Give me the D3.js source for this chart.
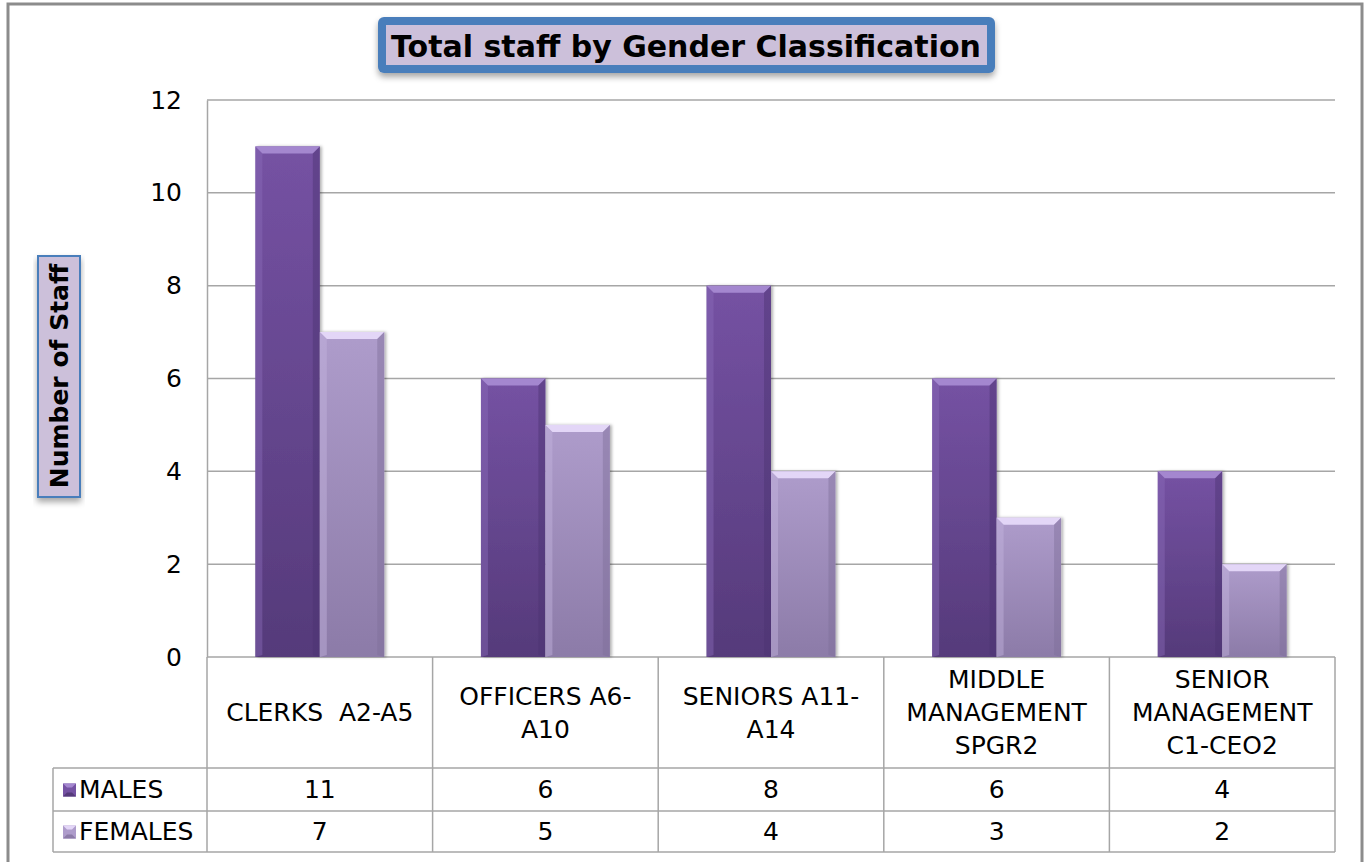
<!DOCTYPE html>
<html>
<head>
<meta charset="utf-8">
<script src="https://cdnjs.cloudflare.com/ajax/libs/d3/7.8.5/d3.min.js"></script>
<style>
body { margin: 0; background: #fff; }
svg { display: block; }
text { font-family: "DejaVu Sans", Verdana, sans-serif; fill: #000; white-space: pre; }
</style>
</head>
<body>
<div id="chart"></div>
<script>
// data
var categories = ["CLERKS  A2-A5", "OFFICERS A6-A10", "SENIORS A11-A14", "MIDDLE MANAGEMENT SPGR2", "SENIOR MANAGEMENT C1-CEO2"];
var categoryLines = [["CLERKS  A2-A5"], ["OFFICERS A6-", "A10"], ["SENIORS A11-", "A14"], ["MIDDLE", "MANAGEMENT", "SPGR2"], ["SENIOR", "MANAGEMENT", "C1-CEO2"]];
var seriesNames = ["MALES", "FEMALES"];
var males = [11, 6, 8, 6, 4];
var females = [7, 5, 4, 3, 2];
var yTicks = [0, 2, 4, 6, 8, 10, 12];

var width = 1369,
height = 862,
plotLeft = 207,
plotRight = 1335,
plotTop = 100,
plotBottom = 657,
headRow = 768,
row1 = 811,
row2 = 852,
legendLeft = 53;

var colors = {
	MALES: { top: "#a487cf", main: "#7552a3", bottom: "#553a7a", side: "#8a6ab8", dark: "#4b3370" },
	FEMALES: { top: "#e3d6f7", main: "#ae9ccb", bottom: "#8c7ba8", side: "#c3b3dd", dark: "#7f6f9a" }
};

var svg = d3.select("#chart").append("svg")
.attr("width", width)
.attr("height", height);

var defs = svg.append("defs");

var shadow = defs.append("filter").attr("id", "shadow")
.attr("x", "-10%").attr("y", "-10%").attr("width", "120%").attr("height", "140%");
shadow.append("feDropShadow")
.attr("dx", 0).attr("dy", 4).attr("stdDeviation", 3)
.attr("flood-color", "#000").attr("flood-opacity", 0.35);

var barShadow = defs.append("filter").attr("id", "barShadow")
.attr("x", "-10%").attr("y", "-5%").attr("width", "125%").attr("height", "110%");
barShadow.append("feDropShadow")
.attr("dx", 2).attr("dy", 0).attr("stdDeviation", 1.5)
.attr("flood-color", "#000").attr("flood-opacity", 0.3);

seriesNames.forEach(function(s) {
	var grad = defs.append("linearGradient").attr("id", "grad-" + s)
	.attr("x1", 0).attr("y1", 0).attr("x2", 0).attr("y2", 1);
	grad.append("stop").attr("offset", "0%").attr("stop-color", colors[s].main);
	grad.append("stop").attr("offset", "100%").attr("stop-color", colors[s].bottom);
});

// outer chart border
svg.append("rect")
.attr("x", 8).attr("y", 4)
.attr("width", 1354).attr("height", 870)
.attr("fill", "#fff")
.attr("stroke", "#8c8c8c")
.attr("stroke-width", 3);

// scales
var x = d3.scaleBand()
.domain(categories)
.range([plotLeft, plotRight]);

var xs = d3.scaleBand()
.domain(seriesNames)
.range([0, x.bandwidth()])
.paddingOuter(0.75);

var y = d3.scaleLinear()
.domain([0, 12])
.range([plotBottom, plotTop]);

// gridlines
svg.append("g")
.selectAll("line")
.data(yTicks)
.enter().append("line")
.attr("x1", plotLeft).attr("x2", plotRight)
.attr("y1", function(d) { return y(d); })
.attr("y2", function(d) { return y(d); })
.attr("stroke", "#a6a6a6")
.attr("stroke-width", 1.5);

// y axis
var yAxis = svg.append("g")
.attr("transform", "translate(" + plotLeft + ",0)")
.call(d3.axisLeft(y).tickValues(yTicks).tickSize(0).tickPadding(25));
yAxis.select(".domain").attr("stroke", "#a6a6a6").attr("stroke-width", 1.5);
yAxis.selectAll("text")
.style("font-family", "DejaVu Sans")
.style("font-size", "25px")
.attr("fill", "#000");

// bars
var rows = [
	{ name: "MALES", values: males },
	{ name: "FEMALES", values: females }
];

var bev = 7;

rows.forEach(function(r) {
	var c = colors[r.name];
	var g = svg.append("g").attr("class", "bars-" + r.name);
	var bar = g.selectAll("g")
	.data(r.values)
	.enter().append("g")
	.attr("transform", function(d, i) { return "translate(" + (x(categories[i]) + xs(r.name)) + "," + y(d) + ")"; });

	var bw = xs.bandwidth();

	bar.append("rect")
	.attr("width", bw)
	.attr("height", function(d) { return plotBottom - y(d); })
	.attr("fill", "url(#grad-" + r.name + ")")
	.attr("filter", "url(#barShadow)");

	// bevel: top, left, right faces
	bar.append("polygon")
	.attr("points", [[0, 0], [bw, 0], [bw - bev, bev], [bev, bev]].join(" "))
	.attr("fill", c.top);
	bar.append("polygon")
	.attr("points", function(d) {
		var h = plotBottom - y(d);
		return [[0, 0], [bev, bev], [bev, h - 2], [0, h]].join(" ");
	})
	.attr("fill", c.side)
	.attr("opacity", 0.45);
	bar.append("polygon")
	.attr("points", function(d) {
		var h = plotBottom - y(d);
		return [[bw, 0], [bw - bev, bev], [bw - bev, h - 2], [bw, h]].join(" ");
	})
	.attr("fill", c.dark)
	.attr("opacity", 0.45);
});

// data table
var table = svg.append("g").attr("class", "table");
var lineStyle = function(sel) { sel.attr("stroke", "#a6a6a6").attr("stroke-width", 1.5); };

[headRow, row1, row2].forEach(function(yy) {
	table.append("line")
	.attr("x1", legendLeft).attr("x2", plotRight)
	.attr("y1", yy).attr("y2", yy)
	.call(lineStyle);
});
table.append("line")
.attr("x1", legendLeft).attr("x2", legendLeft)
.attr("y1", headRow).attr("y2", row2)
.call(lineStyle);
var edges = categories.map(function(d) { return x(d); }).concat([plotRight]);
table.selectAll(".vline")
.data(edges)
.enter().append("line")
.attr("class", "vline")
.attr("x1", function(d) { return d; }).attr("x2", function(d) { return d; })
.attr("y1", plotBottom).attr("y2", row2)
.call(lineStyle);

// category labels
var lh = 33;
table.selectAll(".cat")
.data(categoryLines)
.enter().append("text")
.attr("class", "cat")
.attr("text-anchor", "middle")
.attr("xml:space", "preserve")
.style("font-size", "25px")
.each(function(lines, i) {
	var cx = x(categories[i]) + x.bandwidth() / 2;
	var cy = (plotBottom + headRow) / 2 - (lines.length - 1) * lh / 2;
	d3.select(this).selectAll("tspan")
	.data(lines)
	.enter().append("tspan")
	.attr("x", cx)
	.attr("y", function(d, j) { return cy + j * lh; })
	.attr("dy", "0.35em")
	.text(function(d) { return d; });
});

// value rows with legend keys
var rowTops = [headRow, row1];
rows.forEach(function(r, k) {
	var cy = (rowTops[k] + (k === 0 ? row1 : row2)) / 2;
	var c = colors[r.name];
	var key = table.append("g").attr("transform", "translate(63," + (cy - 6) + ")");
	key.append("rect").attr("width", 13).attr("height", 13).attr("fill", c.main);
	key.append("polygon").attr("points", "0,0 13,0 9,4 4,4").attr("fill", c.top);
	key.append("polygon").attr("points", "0,13 13,13 9,9 4,9").attr("fill", c.bottom);

	table.append("text")
	.attr("x", 79).attr("y", cy)
	.attr("dy", "0.35em")
	.style("font-size", "25px")
	.text(r.name);

	table.selectAll(".val-" + r.name)
	.data(r.values)
	.enter().append("text")
	.attr("class", "val-" + r.name)
	.attr("x", function(d, i) { return x(categories[i]) + x.bandwidth() / 2; })
	.attr("y", cy)
	.attr("dy", "0.35em")
	.attr("text-anchor", "middle")
	.style("font-size", "25px")
	.text(function(d) { return d; });
});

// title box
var tb = svg.append("g").attr("filter", "url(#shadow)");
tb.append("rect")
.attr("x", 378).attr("y", 17)
.attr("width", 617).attr("height", 56)
.attr("rx", 6)
.attr("fill", "#4a7ebb");
tb.append("rect")
.attr("x", 386).attr("y", 25)
.attr("width", 601).attr("height", 40)
.attr("fill", "#ccc0da");
svg.append("text")
.attr("x", 686).attr("y", 46)
.attr("dy", "0.35em")
.attr("text-anchor", "middle")
.style("font-size", "30px")
.style("font-weight", "bold")
.text("Total staff by Gender Classification");

// y axis title box
var yb = svg.append("g").attr("filter", "url(#shadow)");
yb.append("rect")
.attr("x", 38).attr("y", 256)
.attr("width", 42).attr("height", 241)
.attr("fill", "#ccc0da")
.attr("stroke", "#4a7ebb")
.attr("stroke-width", 2);
svg.append("text")
.attr("transform", "translate(59,376) rotate(-90)")
.attr("dy", "0.35em")
.attr("text-anchor", "middle")
.style("font-size", "25px")
.style("font-weight", "bold")
.text("Number of Staff");
</script>
</body>
</html>
